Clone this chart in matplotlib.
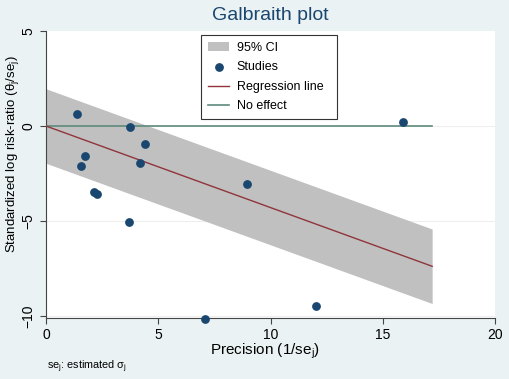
import matplotlib.pyplot as plt
import numpy as np

plt.rcParams['font.family'] = ['Liberation Sans', 'DejaVu Sans']

# studies: precision (1/se_j) and standardized log risk-ratio (theta_j/se_j)
precision = [1.36, 3.73, 4.40, 1.75, 1.54, 4.20, 2.12, 2.25, 3.70, 7.07, 8.96, 12.03, 15.88]
std_effect = [0.62, -0.05, -0.95, -1.56, -2.08, -1.96, -3.45, -3.60, -5.07, -10.17, -3.04, -9.45, 0.19]

slope = -0.429      # regression through origin
x_end = 17.2
ci_half = 1.96

bg = '#eaf2f3'
fig = plt.figure(figsize=(5.09, 3.79), dpi=100, facecolor=bg)
ax = fig.add_axes([46 / 509, 1 - 318 / 379, 449 / 509, 287 / 379])
ax.set_facecolor('white')

xx = np.array([0, x_end])
ax.fill_between(xx, slope * xx - ci_half, slope * xx + ci_half, color='#c0c0c0', lw=0, label='95% CI', zorder=2)
ax.plot([0, x_end], [0, 0], color='#5d8a7e', lw=1.2, label='No effect', zorder=3)
ax.plot(xx, slope * xx, color='#90353b', lw=1.0, label='Regression line', zorder=3)
ax.scatter(precision, std_effect, s=28, color='#1a476f', label='Studies', zorder=4, clip_on=False)

ax.set_xlim(0, 20)
ax.set_ylim(-10.1, 5)
ax.set_xticks([0, 5, 10, 15, 20])
ax.set_yticks([-10, -5, 0, 5])
for yv in [-10, -5, 0]:
    ax.axhline(yv, color='#eeeeee', lw=0.8, zorder=1)

for side in ['top', 'right']:
    ax.spines[side].set_visible(False)
ax.spines['left'].set_color('#444444')
ax.spines['bottom'].set_color('#444444')
ax.tick_params(length=4.5, pad=3, color='#444444', labelsize=10, labelcolor='black')
plt.setp(ax.get_yticklabels(), rotation=90, va='center')

ax.set_xlabel('Precision (1/se$_\\mathregular{j}$)', fontsize=11)
ax.xaxis.set_label_coords(219 / 449, -33 / 287)
ax.xaxis.label.set_va('center')
ax.set_ylabel('Standardized log risk-ratio (θ$_\\mathregular{j}$/se$_\\mathregular{j}$)', fontsize=9.5)
ax.yaxis.set_label_coords(-33 / 449, (318 - 154) / 287)
ax.yaxis.label.set_va('center')
fig.text(270 / 509, 1 - 16 / 379, 'Galbraith plot', ha='center', va='center', fontsize=14, color='#1a476f')
fig.text(47 / 509, 1 - 367 / 379, 'se$_\\mathregular{j}$: estimated σ$_\\mathregular{j}$', ha='left', va='center', fontsize=7.8)

h, l = ax.get_legend_handles_labels()
order = [l.index(k) for k in ['95% CI', 'Studies', 'Regression line', 'No effect']]
labels = ['95% CI', 'Studies', 'Regression line  ', 'No effect']
leg = ax.legend([h[i] for i in order], labels, loc='upper left',
                bbox_to_anchor=(155 / 449, 1 - 4 / 287), fontsize=9, frameon=True,
                fancybox=False, edgecolor='#333333', framealpha=1, borderpad=0.55,
                handlelength=1.7, handletextpad=0.6, labelspacing=0.6, borderaxespad=0)
leg.get_frame().set_linewidth(0.8)

fig.savefig('out.png', dpi=100, facecolor=bg)
